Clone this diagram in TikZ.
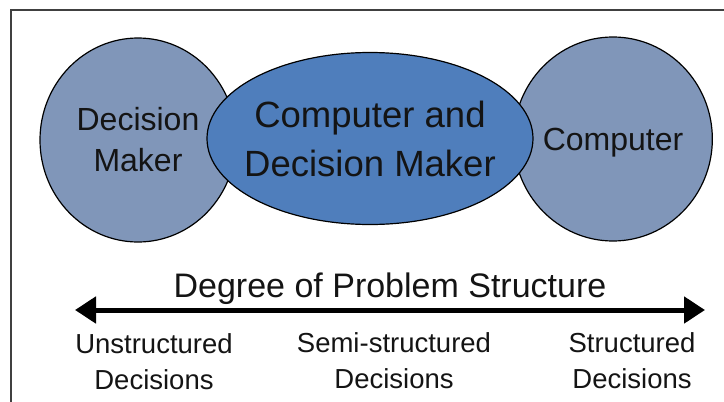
\documentclass[tikz,border=0pt]{standalone}
\usepackage{fontspec}
\setmainfont{Liberation Sans}
\usetikzlibrary{shapes.geometric,arrows.meta}
\definecolor{circfill}{HTML}{8096B9}
\definecolor{ellfill}{HTML}{4F7EBC}
\definecolor{framecol}{HTML}{404040}
\definecolor{textcol}{HTML}{141414}
\tikzset{
  sidecirc/.style={ellipse, draw=black, line width=1.2pt, fill=circfill, inner sep=0pt,
    minimum width=196pt, minimum height=204pt, align=center, text=textcol,
    font=\fontsize{32}{41}\selectfont},
  midell/.style={ellipse, draw=black, line width=1.2pt, fill=ellfill, inner ysep=0pt,
    inner xsep=-20pt,
    minimum width=326pt, minimum height=172pt, align=center, text=textcol,
    font=\fontsize{36.5}{49}\selectfont},
  axislabel/.style={anchor=north, align=center, inner sep=0pt, text=textcol,
    font=\fontsize{27.5}{36}\selectfont},
  titlelabel/.style={anchor=base, inner sep=0pt, text=textcol,
    font=\fontsize{34}{40}\selectfont},
  axisarrow/.style={line width=5pt, {Triangle[length=21pt,width=26pt]}-{Triangle[length=21pt,width=26pt]}},
  framelines/.style={draw=framecol, line width=1.5pt}
}
\begin{document}
\begin{tikzpicture}[x=1pt,y=-1pt]
\useasboundingbox (0,0) rectangle (724,402);
\draw[framelines] (11,402) -- (11,10) -- (724,10);
\node[sidecirc] (dm) at (138,140) {Decision\\Maker};
\node[sidecirc, minimum width=194pt, text depth=0pt] (comp) at (613,139) {Computer};
\node[midell] (cdm) at (370,138.5) {Computer and\\Decision Maker};
\node[titlelabel] (title) at (390,297) {Degree of Problem Structure};
\coordinate (axL) at (75,310);
\coordinate (axR) at (705,310);
\draw[axisarrow] (axL) -- (axR);
\node[axislabel] (uns) at (154,333.5) {Unstructured\\Decisions};
\node[axislabel] (semi) at (394,332) {Semi-structured\\Decisions};
\node[axislabel] (str) at (632,332) {Structured\\Decisions};
\end{tikzpicture}
\end{document}
